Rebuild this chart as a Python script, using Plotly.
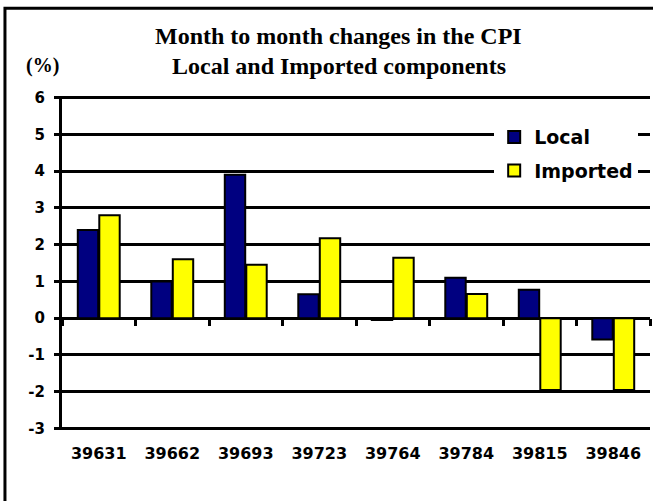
import plotly.graph_objects as go

categories = ["39631", "39662", "39693", "39723", "39764", "39784", "39815", "39846"]
local_vals = [2.4, 1.0, 3.9, 0.65, -0.05, 1.1, 0.77, -0.58]
imported_vals = [2.8, 1.6, 1.45, 2.17, 1.64, 0.66, -1.95, -1.95]
y_ticks = [-3, -2, -1, 0, 1, 2, 3, 4, 5, 6]
y_tick_labels = ["-3", "-2", "-1", "0", "1", "2", "3", "4", "5", "6"]

NAVY = "#000080"
YELLOW = "#FFFF00"
TICK_FONT = "DejaVu Sans"
TITLE_FONT = "Liberation Serif"

Y_RANGE = [-3.04, 6.04]
zero_pos = (0 - Y_RANGE[0]) / (Y_RANGE[1] - Y_RANGE[0])

fig = go.Figure()
fig.add_trace(go.Bar(
    x=categories, y=local_vals, name="Local", legendgroup="a",
    marker=dict(color=NAVY, line=dict(color="black", width=2)),
))
fig.add_trace(go.Bar(
    x=categories, y=imported_vals, name="Imported", legendgroup="b",
    marker=dict(color=YELLOW, line=dict(color="black", width=2)),
))
# invisible helper trace so that the zero-level tick axis is drawn
fig.add_trace(go.Scatter(
    x=categories, y=[None] * len(categories), xaxis="x2",
    showlegend=False, hoverinfo="skip", mode="markers",
))

fig.update_layout(
    width=653, height=501,
    margin=dict(l=62, r=3, t=96, b=71),
    paper_bgcolor="white", plot_bgcolor="white",
    barmode="group", bargap=0.415, bargroupgap=0.05,
    showlegend=True,
    legend=dict(
        x=0.735, y=0.934, xanchor="left", yanchor="top",
        bgcolor="white", borderwidth=0,
        font=dict(family=TICK_FONT, size=19, color="black", weight="bold"),
        tracegroupgap=6, traceorder="grouped",
    ),
    xaxis=dict(
        type="category", range=[-0.5, 7.5],
        showgrid=False, zeroline=False, showline=False, ticks="",
        tickfont=dict(family=TICK_FONT, size=16, color="black", weight="bold"),
        ticklabelstandoff=12,
    ),
    xaxis2=dict(
        type="category", range=[-0.5, 7.5], overlaying="x",
        anchor="free", position=zero_pos, side="bottom",
        showgrid=False, zeroline=False, showline=False,
        ticks="outside", tickson="boundaries", ticklen=7, tickwidth=3,
        tickcolor="black", showticklabels=False,
    ),
    yaxis=dict(
        range=Y_RANGE, tickvals=y_ticks, ticktext=y_tick_labels,
        showgrid=True, gridcolor="black", gridwidth=3,
        zeroline=False, showline=True, linecolor="black", linewidth=3,
        ticks="outside", ticklen=5, tickwidth=3, tickcolor="black",
        tickfont=dict(family=TICK_FONT, size=15, color="black", weight="bold"),
        ticklabelstandoff=6,
    ),
    annotations=[
        dict(text="<b>Month to month changes in the CPI</b>", xref="paper", yref="paper",
             x=0.471, y=1.181, xanchor="center", yanchor="middle", showarrow=False,
             font=dict(family=TITLE_FONT, size=24, color="black")),
        dict(text="<b>Local and Imported components</b>", xref="paper", yref="paper",
             x=0.471, y=1.089, xanchor="center", yanchor="middle", showarrow=False,
             font=dict(family=TITLE_FONT, size=24, color="black")),
        dict(text="<b>(%)</b>", xref="paper", yref="paper",
             x=-0.034, y=1.090, xanchor="center", yanchor="middle", showarrow=False,
             font=dict(family=TITLE_FONT, size=20, color="black")),
    ],
    shapes=[
        dict(type="rect", xref="paper", yref="paper",
             x0=-0.097, x1=1.2, y0=-0.6, y1=1.263,
             line=dict(color="black", width=3), layer="below"),
    ],
)

fig.write_html(
    "out.html",
    config={"displayModeBar": False},
    post_script="document.body.style.margin='0';document.body.style.overflow='hidden';",
)
